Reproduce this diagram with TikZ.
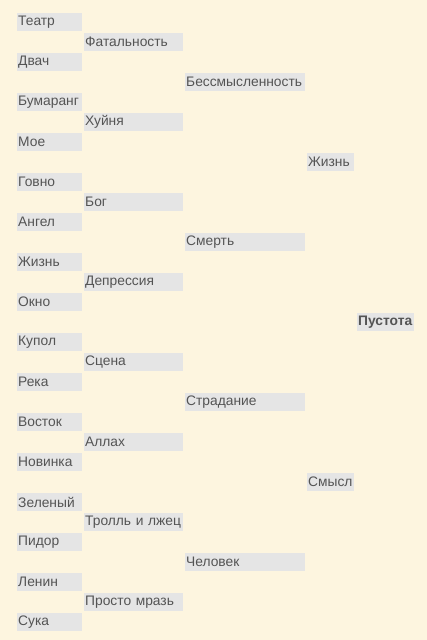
\documentclass[tikz,border=0pt]{standalone}
\usepackage{fontspec}
\setmainfont{Liberation Sans}
\usepackage{xcolor}
\usetikzlibrary{positioning}

\definecolor{paper}{HTML}{FDF5DF}
\definecolor{cellgray}{HTML}{E5E5E5}
\definecolor{inkgray}{HTML}{545454}

\begin{document}
\begin{tikzpicture}[x=1pt,y=-1pt,
    cell/.style={fill=cellgray,text=inkgray,anchor=west,inner xsep=1pt,inner ysep=0pt,
                 minimum height=18pt,align=left,font=\fontsize{13.8}{16}\selectfont},
    round one/.style={cell,text width=63pt},
    round two/.style={cell,text width=97pt},
    round three/.style={cell,text width=118pt},
    round four/.style={cell,text width=45pt},
    winner/.style={cell,text width=55pt,font=\fontsize{13.8}{16}\selectfont\bfseries}]

    \fill[paper] (0,0) rectangle (427,640);
    \useasboundingbox (0,0) rectangle (427,640);

    % first round
    \node[round one] (r1a) at (17,22) {Театр};
    \node[round one] (r1b) at (17,62) {Двач};
    \node[round one] (r1c) at (17,102) {Бумаранг};
    \node[round one] (r1d) at (17,142) {Мое};
    \node[round one] (r1e) at (17,182) {Говно};
    \node[round one] (r1f) at (17,222) {Ангел};
    \node[round one] (r1g) at (17,262) {Жизнь};
    \node[round one] (r1h) at (17,302) {Окно};
    \node[round one] (r1i) at (17,342) {Купол};
    \node[round one] (r1j) at (17,382) {Река};
    \node[round one] (r1k) at (17,422) {Восток};
    \node[round one] (r1l) at (17,462) {Новинка};
    \node[round one] (r1m) at (17,502) {Зеленый};
    \node[round one] (r1n) at (17,542) {Пидор};
    \node[round one] (r1o) at (17,582) {Ленин};
    \node[round one] (r1p) at (17,622) {Сука};

    % second round
    \node[round two] (r2a) at (84,42) {Фатальность};
    \node[round two] (r2b) at (84,122) {Хуйня};
    \node[round two] (r2c) at (84,202) {Бог};
    \node[round two] (r2d) at (84,282) {Депрессия};
    \node[round two] (r2e) at (84,362) {Сцена};
    \node[round two] (r2f) at (84,442) {Аллах};
    \node[round two] (r2g) at (84,522) {Тролль и лжец};
    \node[round two] (r2h) at (84,602) {Просто мразь};

    % third round
    \node[round three] (r3a) at (185,82) {Бессмысленность};
    \node[round three] (r3b) at (185,242) {Смерть};
    \node[round three] (r3c) at (185,402) {Страдание};
    \node[round three] (r3d) at (185,562) {Человек};

    % semifinal
    \node[round four] (r4a) at (307,162) {Жизнь};
    \node[round four] (r4b) at (307,482) {Смысл};

    % final
    \node[winner] (top) at (357,322) {Пустота};
\end{tikzpicture}
\end{document}
